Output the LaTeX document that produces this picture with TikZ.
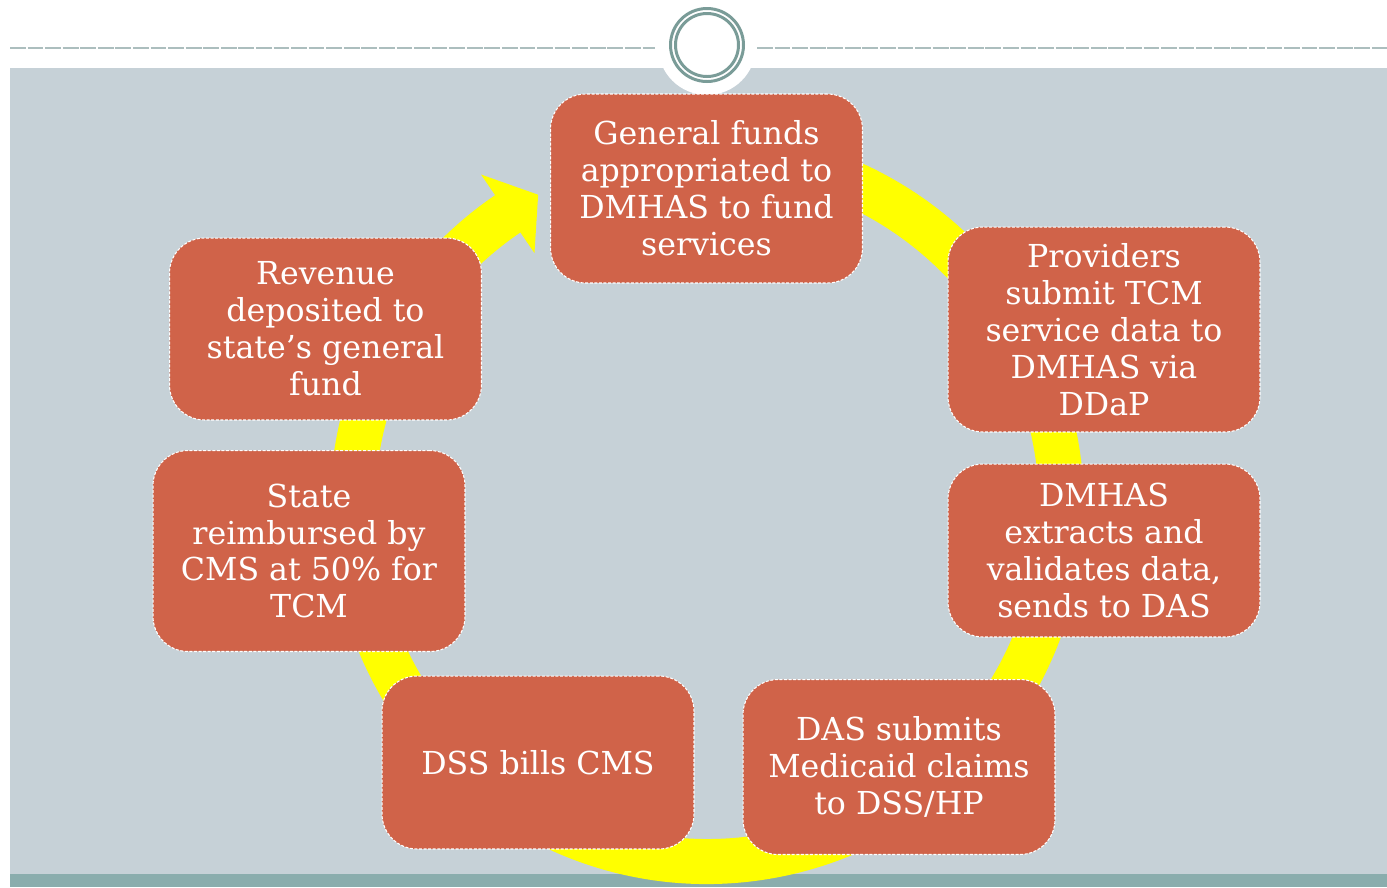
\documentclass[tikz,border=0pt]{standalone}
\usepackage{fontspec}
\setmainfont{DejaVu Serif}
\usepackage{tikz}
\usetikzlibrary{calc}
\definecolor{panelgray}{RGB}{198,209,215}
\definecolor{stripteal}{RGB}{138,173,173}
\definecolor{ringteal}{RGB}{122,156,152}
\definecolor{dashgray}{RGB}{172,190,190}
\definecolor{boxred}{RGB}{208,99,73}
\definecolor{arrowyellow}{RGB}{255,255,0}

\begin{document}
\begin{tikzpicture}[x=0.02cm,y=-0.02cm,every text node part/.style={align=center}]
  \tikzstyle{stage}=[rectangle,rounded corners=0.7cm,draw=white,fill=boxred,
    dash pattern=on 1.7pt off 0.9pt,line width=0.6pt,text=white,
    minimum width=6.24cm,inner sep=2pt,font=\fontsize{18}{21}\selectfont]
  \tikzstyle{topline}=[dashgray,line width=1pt,dash pattern=on 9pt off 1pt]

  \useasboundingbox (0,0) rectangle (1387,887);
  \fill[panelgray] (10,68) rectangle (1387,874);
  \fill[stripteal] (10,874) rectangle (1387,887);
  \draw[topline] (10,48) -- (655,48);
  \draw[topline] (757,48) -- (1387,48);
  \fill[white] (707,46) circle[radius=49];
  \draw[ringteal,line width=1.7pt] (707,45) circle[radius=36.5];
  \draw[ringteal,line width=1.7pt] (707,45) circle[radius=31.5];

  \coordinate (hub) at (707,507);
  \fill[arrowyellow] ($(hub)+(-100:377)$) arc[start angle=-100,end angle=235.8,radius=377]
    -- ($(hub)+(235.8:402)$) -- ($(hub)+(241.6:355)$) -- ($(hub)+(235.8:307)$)
    -- ($(hub)+(235.8:332)$) arc[start angle=235.8,end angle=-100,radius=332] -- cycle;

  \node [stage,minimum height=3.78cm] (funds) at (706.5,188.5) {General funds\\
    appropriated to\\
    DMHAS to fund\\
    services};
  \node [stage,minimum height=4.1cm] (providers) at (1104,329.5) {Providers\\
    submit TCM\\
    service data to\\
    DMHAS via\\
    DDaP};
  \node [stage,minimum height=3.46cm] (extracts) at (1104,550.5) {DMHAS\\
    extracts and\\
    validates data,\\
    sends to DAS};
  \node [stage,minimum height=3.5cm] (claims) at (899,767) {DAS submits\\
    Medicaid claims\\
    to DSS/HP};
  \node [stage,minimum height=3.46cm] (bills) at (538,762.5) {DSS bills CMS};
  \node [stage,minimum height=4.02cm] (reimbursed) at (309,551) {State\\
    reimbursed by\\
    CMS at \oldstylenums{50}\% for\\
    TCM};
  \node [stage,minimum height=3.64cm] (revenue) at (325.5,329) {Revenue\\
    deposited to\\
    state’s general\\
    fund};
\end{tikzpicture}
\end{document}
